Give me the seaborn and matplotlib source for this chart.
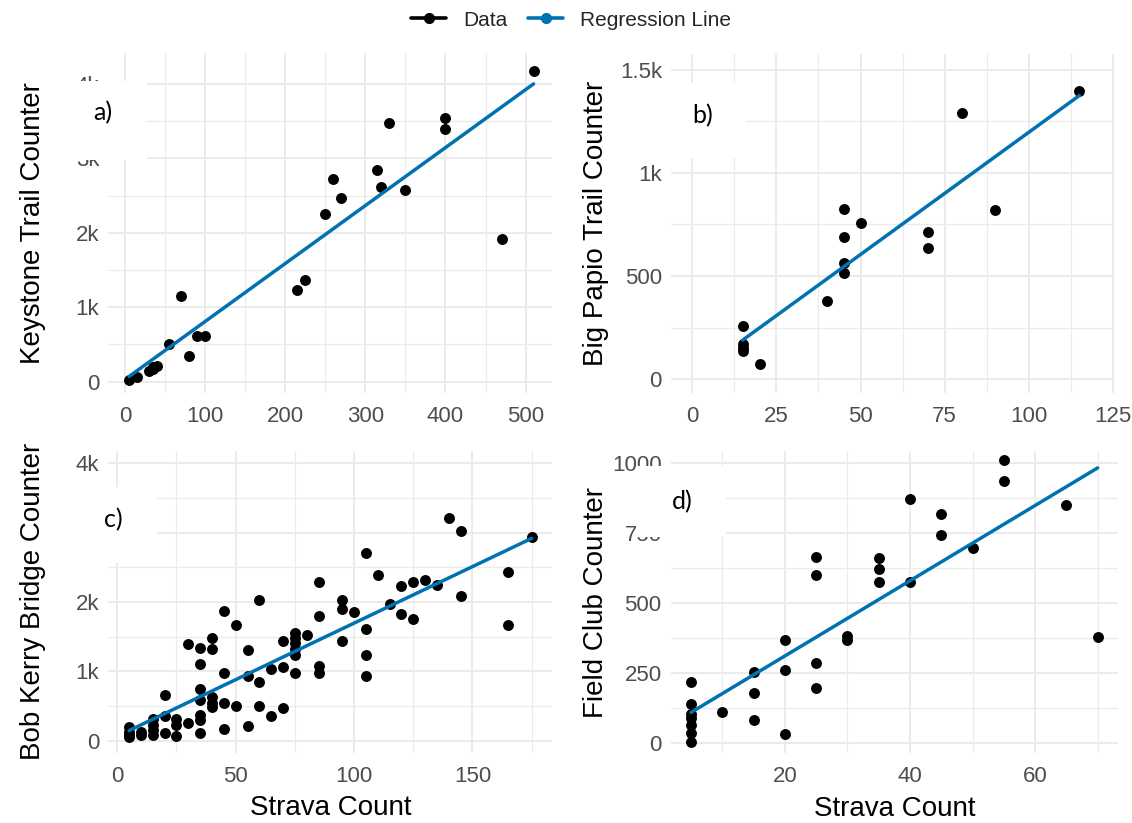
import numpy as np
import pandas as pd
import matplotlib
matplotlib.use("Agg")
import matplotlib.pyplot as plt
import seaborn as sns
from matplotlib.lines import Line2D
from matplotlib.patches import Rectangle
from matplotlib.ticker import FixedLocator

# ---------------- data ----------------
keystone_strava = [5, 15, 30, 35, 35, 40, 55, 70, 80, 90, 100, 215, 225, 250, 260, 270,
                   315, 320, 330, 350, 400, 400, 470, 510]
keystone_counter = [20, 60, 150, 200, 170, 210, 510, 1150, 350, 620, 620, 1230, 1370, 2260,
                    2720, 2470, 2850, 2620, 3480, 2570, 3550, 3400, 1920, 4180]

papio_strava = [15, 15, 15, 15, 20, 40, 45, 45, 45, 45, 50, 70, 70, 80, 90, 115]
papio_counter = [260, 170, 150, 135, 75, 380, 825, 690, 565, 515, 755, 715, 635, 1290, 820, 1395]

bob_strava = [5, 5, 5, 5, 10, 10, 15, 15, 15, 15, 20, 20, 20, 25, 25, 25, 30, 30,
              35, 35, 35, 35, 35, 35, 35, 40, 40, 40, 40, 40, 45, 45, 45, 45, 50, 50,
              55, 55, 55, 60, 60, 60, 65, 65, 70, 70, 70, 75, 75, 75, 75, 75, 75, 80,
              85, 85, 85, 85, 95, 95, 95, 100, 105, 105, 105, 105, 110, 115, 120, 120,
              125, 125, 130, 135, 140, 145, 145, 165, 165, 175]
bob_counter = [200, 130, 80, 60, 80, 130, 320, 230, 150, 80, 660, 350, 105, 320, 225, 70,
               1400, 260, 1330, 1104, 742, 588, 371, 299, 106, 1480, 1320, 636, 540, 492,
               1865, 973, 549, 164, 1672, 506, 1311, 935, 212, 2034, 853, 506, 1031, 361,
               1441, 1060, 467, 1552, 1480, 1407, 1320, 1239, 973, 1528, 2284, 1793, 1084,
               973, 2034, 1899, 1441, 1860, 2708, 1610, 1229, 935, 2390, 1971, 2227, 1827,
               2284, 1754, 2323, 2241, 3214, 3031, 2092, 2434, 1672, 2940]

field_strava = [5, 5, 5, 5, 5, 5, 5, 10, 15, 15, 15, 20, 20, 20, 25, 25, 25, 25, 30, 30,
                35, 35, 35, 40, 40, 45, 45, 50, 55, 55, 65, 70]
field_counter = [219, 140, 105, 90, 65, 35, 5, 112, 255, 181, 82, 368, 261, 34, 665, 601,
                 287, 199, 384, 370, 662, 622, 575, 873, 575, 819, 744, 696, 1010, 936, 851, 378]

panel_tags = ["a)", "b)", "c)", "d)"]
y_titles = ["Keystone Trail Counter", "Big Papio Trail Counter",
            "Bob Kerry Bridge Counter", "Field Club Counter"]
x_title = "Strava Count"

a_xticks = [0, 100, 200, 300, 400, 500]
a_yticks = [0, 1000, 2000, 3000, 4000]
a_yticklabels = ["0", "1k", "2k", "3k", "4k"]
b_xticks = [0, 25, 50, 75, 100, 125]
b_yticks = [0, 500, 1000, 1500]
b_yticklabels = ["0", "500", "1k", "1.5k"]
c_xticks = [0, 50, 100, 150]
c_yticks = [0, 1000, 2000, 3000, 4000]
c_yticklabels = ["0", "1k", "2k", "3k", "4k"]
d_xticks = [20, 40, 60]
d_yticks = [0, 250, 500, 750, 1000]
d_yticklabels = ["0", "250", "500", "750", "1000"]

legend_labels = ["Data", "Regression Line"]

# ---------------- style ----------------
sns.set_theme(style="white")
plt.rcParams["font.family"] = ["Liberation Sans", "DejaVu Sans"]

W, H = 1132, 823
fig = plt.figure(figsize=(W / 100, H / 100), dpi=100)

def frect(l, t, r, b):
    return [l / W, 1 - b / H, (r - l) / W, (b - t) / H]

LINE_BLUE = "#0072B2"
GRID = "#EBEBEB"
TICK_COL = "#4D4D4D"

panels = [
    dict(x=keystone_strava, y=keystone_counter, rect=(108.3, 53.3, 552, 393.3),
         xlim=(-21, 533), ylim=(-156, 4414), xt=a_xticks, yt=a_yticks, ytl=a_yticklabels,
         xtitle=False),
    dict(x=papio_strava, y=papio_counter, rect=(671, 54, 1115, 393.3),
         xlim=(-6.3, 125.6), ylim=(-68, 1576), xt=b_xticks, yt=b_yticks, ytl=b_yticklabels,
         xtitle=False),
    dict(x=bob_strava, y=bob_counter, rect=(108.3, 450.7, 552.3, 752.7),
         xlim=(-3.8, 183.7), ylim=(-173, 4182), xt=c_xticks, yt=c_yticks, ytl=c_yticklabels,
         xtitle=True),
    dict(x=field_strava, y=field_counter, rect=(670.7, 450.7, 1118, 753.3),
         xlim=(1.75, 73.25), ylim=(-36, 1045), xt=d_xticks, yt=d_yticks, ytl=d_yticklabels,
         xtitle=True),
]

def minors(major, lim):
    step = major[1] - major[0]
    m = np.arange(major[0] - step / 2, major[-1] + step, step)
    return [v for v in m if lim[0] <= v <= lim[1]]

for i, p in enumerate(panels):
    ax = fig.add_axes(frect(*p["rect"]))
    df = pd.DataFrame({"strava": p["x"], "counter": p["y"]})
    sns.scatterplot(data=df, x="strava", y="counter", ax=ax, color="black",
                    s=62, linewidth=0, zorder=3)
    sns.regplot(data=df, x="strava", y="counter", ax=ax, scatter=False, ci=None,
                truncate=True, color=LINE_BLUE, line_kws=dict(lw=2.5, zorder=4))
    ax.set_xlim(*p["xlim"])
    ax.set_ylim(*p["ylim"])
    ax.xaxis.set_major_locator(FixedLocator(p["xt"]))
    ax.yaxis.set_major_locator(FixedLocator(p["yt"]))
    ax.set_yticklabels(p["ytl"])
    ax.xaxis.set_minor_locator(FixedLocator(minors(p["xt"], p["xlim"])))
    ax.yaxis.set_minor_locator(FixedLocator(minors(p["yt"], p["ylim"])))
    ax.grid(True, which="major", color=GRID, lw=1.4)
    ax.grid(True, which="minor", color=GRID, lw=0.9)
    ax.set_axisbelow(True)
    for s in ax.spines.values():
        s.set_visible(False)
    ax.tick_params(which="both", length=0)
    ax.tick_params(axis="x", pad=9.5, labelsize=16, labelcolor=TICK_COL)
    ax.tick_params(axis="y", pad=6.5, labelsize=16, labelcolor=TICK_COL)
    ax.set_ylabel(y_titles[i], fontsize=20, color="black")
    l = p["rect"][0]
    wpx = p["rect"][2] - p["rect"][0]
    right_target = 46 if l < 500 else 609
    ax.yaxis.set_label_coords((right_target - l) / wpx, 0.5)
    if p["xtitle"]:
        ax.set_xlabel(x_title, fontsize=20, color="black", labelpad=6)
    else:
        ax.set_xlabel("")

# white boxes with panel tags (covering part of the gridlines / tick labels)
boxes = [(50, 80.7, 147, 160), (655, 83.3, 746, 158.3),
         (55, 486.7, 156.6, 563.3), (636, 466, 726, 537)]
tag_pos = [(103, 113), (702.6, 116), (113, 520), (682, 502)]
for (l, t, r, b), (tx, ty), tag in zip(boxes, tag_pos, panel_tags):
    fig.add_artist(Rectangle((l / W, 1 - b / H), (r - l) / W, (b - t) / H,
                             transform=fig.transFigure, facecolor="white",
                             edgecolor="none", zorder=10))
    fig.text(tx / W, 1 - ty / H, tag, fontsize=18, family=["Lato", "DejaVu Sans"],
             ha="center", va="center", color="black", zorder=11)

handles = [Line2D([], [], color="black", marker="o", lw=2.6, markersize=7),
           Line2D([], [], color=LINE_BLUE, marker="o", lw=2.6, markersize=7)]
fig.legend(handles, legend_labels, loc="center", bbox_to_anchor=(571 / W, 1 - 20 / H),
           ncol=2, frameon=False, fontsize=15, handlelength=1.7, columnspacing=1.0,
           handletextpad=0.8)

fig.savefig("out.png", dpi=100)
